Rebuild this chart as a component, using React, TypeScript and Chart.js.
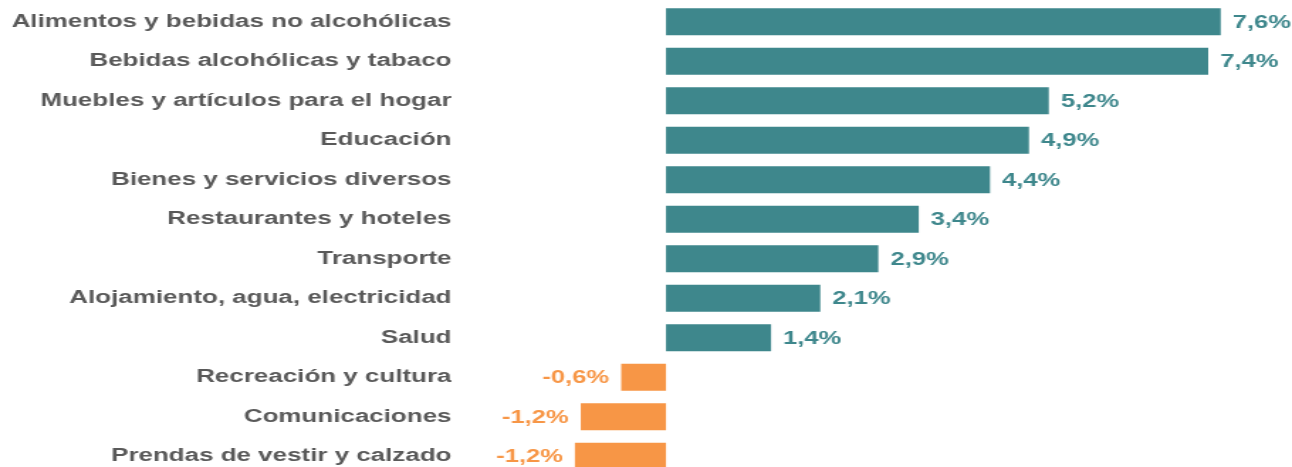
import React, { useEffect, useRef } from "react";
import { Chart, registerables } from "chart.js";

Chart.register(...registerables);

const categories = [
  "Alimentos y bebidas no alcohólicas",
  "Bebidas alcohólicas y tabaco",
  "Muebles y artículos para el hogar",
  "Educación",
  "Bienes y servicios diversos",
  "Restaurantes y hoteles",
  "Transporte",
  "Alojamiento, agua, electricidad",
  "Salud",
  "Recreación y cultura",
  "Comunicaciones",
  "Prendas de vestir y calzado",
];

const values = [7.55, 7.38, 5.21, 4.94, 4.41, 3.44, 2.89, 2.1, 1.43, -0.61, -1.16, -1.24];

const valueLabels = ["7,6%", "7,4%", "5,2%", "4,9%", "4,4%", "3,4%", "2,9%", "2,1%", "1,4%", "-0,6%", "-1,2%", "-1,2%"];

const TEAL = "#3E878C";
const ORANGE = "#F79646";
const GRAY = "#595959";
const FONT = "'Liberation Sans', Arial, Helvetica, sans-serif";

const STRETCH = 1292 / 910;

const valueLabelPlugin = {
  id: "valueLabels",
  afterDatasetsDraw(chart: any) {
    const ctx = chart.ctx;
    const meta = chart.getDatasetMeta(0);
    ctx.save();
    ctx.font = `bold 18px ${FONT}`;
    ctx.textBaseline = "middle";
    meta.data.forEach((bar: any, i: number) => {
      const v = values[i];
      const neg = v < 0;
      ctx.fillStyle = neg ? ORANGE : TEAL;
      ctx.textAlign = neg ? "right" : "left";
      const x = neg ? bar.x - 8.5 : bar.x + 8.5;
      ctx.fillText(valueLabels[i], x, bar.y + 1);
    });
    ctx.restore();
  },
};

export default function App() {
  const ref = useRef<HTMLCanvasElement | null>(null);

  useEffect(() => {
    if (!ref.current) return;
    const chart = new Chart(ref.current, {
      type: "bar",
      data: {
        labels: categories,
        datasets: [
          {
            data: values,
            backgroundColor: values.map((v) => (v < 0 ? ORANGE : TEAL)),
            borderWidth: 0,
            barPercentage: 0.684,
            categoryPercentage: 1,
          },
        ],
      },
      options: {
        indexAxis: "y",
        animation: false,
        responsive: false,
        devicePixelRatio: 1,
        layout: { padding: { top: 2, bottom: 0, left: 0, right: 0 } },
        plugins: {
          legend: { display: false },
          tooltip: { enabled: false },
        },
        scales: {
          x: {
            display: false,
            min: -2.9,
            max: 8.52,
            grid: { display: false },
          },
          y: {
            grid: { display: false, drawTicks: false },
            border: { display: false },
            afterFit(scale: any) {
              scale.width = 319;
              scale.paddingTop = 0;
              scale.paddingBottom = 0;
            },
            ticks: {
              padding: 1,
              color: GRAY,
              font: { family: FONT, size: 18.3, weight: "bold" },
            },
          },
        },
      },
      plugins: [valueLabelPlugin],
    });
    return () => chart.destroy();
  }, []);

  return (
    <div
      style={{
        position: "absolute",
        left: 0,
        top: 0,
        width: 1292,
        height: 467,
        overflow: "hidden",
        background: "#ffffff",
      }}
    >
      <div
        style={{
          width: 910,
          height: 476,
          transform: `scaleX(${STRETCH})`,
          transformOrigin: "0 0",
        }}
      >
        <canvas ref={ref} width={910} height={476} style={{ display: "block" }} />
      </div>
    </div>
  );
}
